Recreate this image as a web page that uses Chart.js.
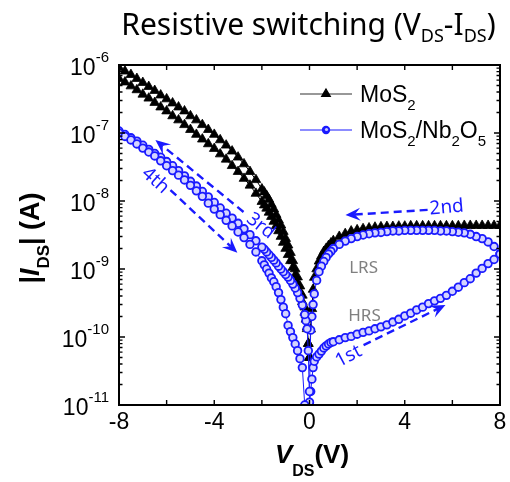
<!DOCTYPE html>
<html>
<head>
<meta charset="utf-8">
<script src="https://cdn.jsdelivr.net/npm/chart.js@4"></script>
<style>
  html, body { margin: 0; padding: 0; background: #fff; }
  canvas { display: block; }
</style>
</head>
<body>
<canvas id="chart" width="510" height="482"></canvas>
<script>
// ---------- Data ----------
// voltage grids (V)
const vPos = [0, 0.05, 0.1, 0.15, 0.2, 0.3, 0.4, 0.5, 0.6, 0.7, 0.8, 0.9, 1,
  1.25, 1.5, 1.75, 2, 2.25, 2.5, 2.75, 3, 3.25, 3.5, 3.75, 4, 4.25, 4.5, 4.75,
  5, 5.25, 5.5, 5.75, 6, 6.25, 6.5, 6.75, 7, 7.25, 7.5, 7.75, 8];
const vNeg = [0, -0.05, -0.1, -0.15, -0.2, -0.3, -0.4, -0.5, -0.6, -0.7, -0.8, -0.9, -1,
  -1.1, -1.2, -1.3, -1.4, -1.5, -1.6, -1.7, -1.8, -1.9, -2,
  -2.25, -2.5, -2.75, -3, -3.25, -3.5, -3.75, -4, -4.25, -4.5, -4.75,
  -5, -5.25, -5.5, -5.75, -6, -6.25, -6.5, -6.75, -7, -7.25, -7.5, -7.75, -8];

// MoS2 |I_DS| (A)
const mos2Pos = [5e-11, 1.3e-10, 2.6e-10, 5e-10, 7.5e-10, 1.0e-9, 1.3e-9, 1.55e-9, 1.8e-9, 2.0e-9, 2.2e-9, 2.4e-9, 2.6e-9,
  3.0e-9, 3.3e-9, 3.6e-9, 3.75e-9, 3.9e-9, 4.0e-9, 4.1e-9, 4.15e-9, 4.2e-9, 4.2e-9, 4.25e-9, 4.25e-9, 4.3e-9,
  4.3e-9, 4.3e-9, 4.3e-9, 4.3e-9, 4.3e-9, 4.3e-9, 4.3e-9, 4.3e-9, 4.35e-9, 4.35e-9, 4.35e-9, 4.35e-9, 4.35e-9, 4.35e-9, 4.35e-9];
const mos2NegA = [5e-11, 8e-11, 1.4e-10, 2.1e-10, 2.75e-10, 4.1e-10, 5.6e-10, 7.6e-10, 1.0e-9, 1.32e-9, 1.74e-9, 2.24e-9, 2.8e-9,
  3.55e-9, 4.4e-9, 5.25e-9, 6.3e-9, 7.6e-9, 8.9e-9, 1.05e-8, 1.2e-8, 1.35e-8, 1.5e-8,
  2.05e-8, 2.7e-8, 3.5e-8, 4.4e-8, 5.4e-8, 6.6e-8, 7.9e-8, 9.5e-8, 1.12e-7, 1.32e-7, 1.55e-7,
  1.78e-7, 2.1e-7, 2.4e-7, 2.75e-7, 3.16e-7, 3.6e-7, 4.2e-7, 4.8e-7, 5.5e-7, 6.3e-7, 7.2e-7, 8.1e-7, 9.1e-7];
const mos2NegB = [5e-11, 8e-11, 1.32e-10, 1.82e-10, 2.3e-10, 3.3e-10, 4.6e-10, 6.2e-10, 8.1e-10, 1.05e-9, 1.32e-9, 1.62e-9, 2.0e-9,
  2.45e-9, 3.0e-9, 3.63e-9, 4.3e-9, 5.0e-9, 5.9e-9, 6.8e-9, 7.8e-9, 8.7e-9, 9.8e-9,
  1.29e-8, 1.7e-8, 2.14e-8, 2.7e-8, 3.3e-8, 4.1e-8, 4.9e-8, 5.9e-8, 6.9e-8, 8.1e-8, 9.5e-8,
  1.12e-7, 1.32e-7, 1.55e-7, 1.78e-7, 2.1e-7, 2.4e-7, 2.8e-7, 3.24e-7, 3.7e-7, 4.3e-7, 4.9e-7, 5.6e-7, 6.3e-7];

// MoS2/Nb2O5 |I_DS| (A)
const nbFirst = [1.0e-11, 1.58e-11, 2.4e-11, 3.55e-11, 4.4e-11, 5.1e-11, 5.6e-11, 6.2e-11, 6.9e-11, 7.4e-11, 7.9e-11, 8.3e-11, 8.5e-11,
  9.1e-11, 9.8e-11, 1.02e-10, 1.1e-10, 1.17e-10, 1.23e-10, 1.32e-10, 1.41e-10, 1.51e-10, 1.66e-10, 1.82e-10, 2.04e-10, 2.24e-10, 2.5e-10, 2.75e-10,
  3.1e-10, 3.4e-10, 3.7e-10, 4.1e-10, 4.7e-10, 5.4e-10, 6.3e-10, 7.2e-10, 8.7e-10, 1.02e-9, 1.2e-9, 1.38e-9, 1.66e-9];
const nbSecond = [1.58e-11, 1.26e-10, 2.0e-10, 3.0e-10, 4.3e-10, 6.8e-10, 9.1e-10, 1.1e-9, 1.29e-9, 1.48e-9, 1.66e-9, 1.82e-9, 2.0e-9,
  2.3e-9, 2.57e-9, 2.8e-9, 3.0e-9, 3.16e-9, 3.3e-9, 3.4e-9, 3.45e-9, 3.55e-9, 3.63e-9, 3.63e-9, 3.7e-9, 3.7e-9, 3.7e-9, 3.7e-9,
  3.7e-9, 3.7e-9, 3.63e-9, 3.63e-9, 3.55e-9, 3.47e-9, 3.4e-9, 3.24e-9, 3.0e-9, 2.8e-9, 2.5e-9, 2.14e-9, 1.66e-9];
const nbThird = [1.1e-11, 6.3e-11, 1.32e-10, 1.74e-10, 2.14e-10, 2.95e-10, 3.7e-10, 4.5e-10, 5.25e-10, 6.0e-10, 6.8e-10, 7.6e-10, 8.3e-10,
  9.1e-10, 1.0e-9, 1.1e-9, 1.23e-9, 1.35e-9, 1.48e-9, 1.62e-9, 1.78e-9, 1.95e-9, 2.1e-9,
  2.6e-9, 3.2e-9, 3.9e-9, 4.7e-9, 5.6e-9, 6.6e-9, 7.9e-9, 9.5e-9, 1.15e-8, 1.38e-8, 1.66e-8,
  1.95e-8, 2.34e-8, 2.8e-8, 3.3e-8, 3.8e-8, 4.4e-8, 5.0e-8, 5.75e-8, 6.6e-8, 7.6e-8, 8.5e-8, 9.5e-8, 1.07e-7];
const nbFourth = [null, null, null, null, 1.0e-11, 3.55e-11, 4.8e-11, 6.3e-11, 7.9e-11, 9.8e-11, 1.2e-10, 1.48e-10, 2.2e-10,
  2.75e-10, 3.55e-10, 4.5e-10, 5.5e-10, 6.5e-10, 7.4e-10, 8.7e-10, 1.0e-9, 1.15e-9, 1.32e-9,
  1.78e-9, 2.3e-9, 2.9e-9, 3.5e-9, 4.3e-9, 5.2e-9, 6.3e-9, 7.6e-9, 9.3e-9, 1.17e-8, 1.41e-8,
  1.7e-8, 2.04e-8, 2.4e-8, 2.8e-8, 3.3e-8, 3.9e-8, 4.6e-8, 5.25e-8, 6.0e-8, 6.9e-8, 7.9e-8, 8.9e-8, 1.0e-7];

// axes
const xTickLabels = [-8, -4, 0, 4, 8];
const xTickMarks = [-8, -6, -4, -2, 0, 2, 4, 6, 8];
const yDecades = [-11, -10, -9, -8, -7, -6];

// ---------- Styles ----------
const BLUE = '#1a1aff';
const TICK_FONT = '"Liberation Sans", Arial, sans-serif';
const NOTE_FONT = '"Noto Sans", sans-serif';

// annotations, in data units: [V, I]
const arrows = [
  { from: [-2.77, 6.9e-9], to: [-6.47, 7.9e-8] },   // 3rd
  { from: [-5.84, 1.45e-8], to: [-3.03, 1.74e-9] }, // 4th
  { from: [2.27, 7.6e-11], to: [5.71, 2.95e-10] },  // 1st
  { from: [4.96, 7.4e-9], to: [1.51, 6.2e-9] }      // 2nd
];
const notes = [
  { text: '3rd', at: [-2.05, 4.3e-9], rot: 38, color: BLUE },
  { text: '4th', at: [-6.47, 2.0e-8], rot: 42, color: BLUE },
  { text: '1st', at: [1.64, 5.2e-11], rot: -28, color: BLUE },
  { text: '2nd', at: [5.76, 8.0e-9], rot: -5, color: BLUE },
  { text: 'LRS', at: [2.27, 1.02e-9], rot: 0, color: '#808080' },
  { text: 'HRS', at: [2.31, 2.04e-10], rot: 0, color: '#808080' }
];

const pts = (vs, is) => vs.map((v, i) => ({ x: v, y: is[i] }));

// sweep order: 0 -> 8 -> 0 -> -8 -> 0
const mos2Points = [...pts(vPos, mos2Pos).reverse(), ...pts(vNeg, mos2NegA), ...pts(vNeg, mos2NegB).reverse()];
const nbPoints = [...pts(vPos, nbFirst), ...pts(vPos, nbSecond).reverse(), ...pts(vNeg, nbThird), ...pts(vNeg, nbFourth).reverse()];

// ---------- Helpers ----------
// draw a run of [text, font, dy] pieces
function drawRuns(ctx, parts, x, y, align) {
    let w = 0;
    parts.forEach(p => { ctx.font = p[1]; w += ctx.measureText(p[0]).width; });
    let cx = align === 'center' ? x - w / 2 : align === 'right' ? x - w : x;
    ctx.textAlign = 'left';
    ctx.textBaseline = 'alphabetic';
    parts.forEach(p => {
        ctx.font = p[1];
        ctx.fillText(p[0], cx, y + (p[2] || 0));
        cx += ctx.measureText(p[0]).width;
    });
}

function drawArrow(ctx, x1, y1, x2, y2) {
    const ang = Math.atan2(y2 - y1, x2 - x1);
    const head = 15;
    ctx.save();
    ctx.strokeStyle = BLUE;
    ctx.fillStyle = BLUE;
    ctx.lineWidth = 2.4;
    ctx.setLineDash([8, 5]);
    ctx.beginPath();
    ctx.moveTo(x1, y1);
    ctx.lineTo(x2 - Math.cos(ang) * head * 0.6, y2 - Math.sin(ang) * head * 0.6);
    ctx.stroke();
    ctx.setLineDash([]);
    ctx.translate(x2, y2);
    ctx.rotate(ang);
    ctx.beginPath();
    ctx.moveTo(0, 0);
    ctx.lineTo(-head, -6.5);
    ctx.lineTo(-head * 0.62, 0);
    ctx.lineTo(-head, 6.5);
    ctx.closePath();
    ctx.fill();
    ctx.restore();
}

// ---------- Decorations plugin ----------
const deco = {
    id: 'deco',
    afterDatasetsDraw(chart) {
        const { ctx, chartArea: a } = chart;
        const xs = chart.scales.x, ys = chart.scales.y;
        ctx.save();

        // frame
        ctx.strokeStyle = '#000';
        ctx.lineWidth = 2;
        ctx.strokeRect(a.left, a.top, a.right - a.left, a.bottom - a.top);

        // inward ticks
        ctx.lineWidth = 1.4;
        ctx.beginPath();
        xTickMarks.forEach(v => {
            const px = xs.getPixelForValue(v);
            ctx.moveTo(px, a.bottom); ctx.lineTo(px, a.bottom - 5);
            ctx.moveTo(px, a.top); ctx.lineTo(px, a.top + 5);
        });
        yDecades.forEach(d => {
            for (let m = 1; m < 10; m++) {
                if (d === -6 && m > 1) break;
                const py = ys.getPixelForValue(m * Math.pow(10, d));
                const len = m === 1 ? 6 : 3.5;
                ctx.moveTo(a.left, py); ctx.lineTo(a.left + len, py);
                ctx.moveTo(a.right, py); ctx.lineTo(a.right - len, py);
            }
        });
        ctx.stroke();

        // tick labels
        ctx.fillStyle = '#000';
        xTickLabels.forEach(v => {
            ctx.font = '23px ' + TICK_FONT;
            ctx.textAlign = 'center';
            ctx.textBaseline = 'alphabetic';
            ctx.fillText(String(v), xs.getPixelForValue(v), a.bottom + 24);
        });
        yDecades.forEach(d => {
            const py = ys.getPixelForValue(Math.pow(10, d));
            drawRuns(ctx, [['10', '23px ' + TICK_FONT, 10], [String(d), '15px ' + TICK_FONT, -3]], 109, py, 'right');
        });

        // annotations
        arrows.forEach(ar => {
            drawArrow(ctx,
                xs.getPixelForValue(ar.from[0]), ys.getPixelForValue(ar.from[1]),
                xs.getPixelForValue(ar.to[0]), ys.getPixelForValue(ar.to[1]));
        });
        notes.forEach(n => {
            ctx.save();
            ctx.translate(xs.getPixelForValue(n.at[0]), ys.getPixelForValue(n.at[1]));
            ctx.rotate(n.rot * Math.PI / 180);
            ctx.fillStyle = n.color;
            ctx.font = (n.color === BLUE ? '19px ' : '17px ') + NOTE_FONT;
            ctx.textAlign = 'center';
            ctx.textBaseline = 'middle';
            ctx.fillText(n.text, 0, 0);
            ctx.restore();
        });

        // legend
        const lx1 = 300, lx2 = 352, lxm = 326, tx = 360;
        ctx.lineWidth = 1.2;
        ctx.strokeStyle = '#333';
        ctx.beginPath(); ctx.moveTo(lx1, 94); ctx.lineTo(lx2, 94); ctx.stroke();
        ctx.fillStyle = '#000'; ctx.strokeStyle = '#000';
        Chart.helpers.drawPoint(ctx, { pointStyle: 'triangle', radius: 5, rotation: 0, borderWidth: 1 }, lxm, 94);
        ctx.strokeStyle = BLUE;
        ctx.beginPath(); ctx.moveTo(lx1, 130); ctx.lineTo(lx2, 130); ctx.stroke();
        ctx.fillStyle = BLUE;
        ctx.beginPath(); ctx.arc(lxm, 130, 4.2, 0, Math.PI * 2); ctx.fill();
        ctx.fillStyle = '#c8c8ff';
        ctx.beginPath(); ctx.arc(lxm + 0.5, 129.5, 1.6, 0, Math.PI * 2); ctx.fill();
        ctx.fillStyle = '#000';
        const big = '23px ' + TICK_FONT, sub = '15px ' + TICK_FONT;
        drawRuns(ctx, [['MoS', big], ['2', sub, 8]], tx, 102, 'left');
        drawRuns(ctx, [['MoS', big], ['2', sub, 8], ['/Nb', big], ['2', sub, 8], ['O', big], ['5', sub, 8]], tx, 138, 'left');

        // title
        const tf = '30px ' + NOTE_FONT, ts = '18px ' + NOTE_FONT;
        drawRuns(ctx, [['Resistive switching (V', tf], ['DS', ts, 7], ['-I', tf], ['DS', ts, 7], [')', tf]],
            (a.left + a.right) / 2 - 1, 35, 'center');

        // x axis title
        const xb = 'bold 26px ' + TICK_FONT;
        drawRuns(ctx, [['V', 'italic ' + xb], ['DS', 'bold 16px ' + TICK_FONT, 13], ['(V)', xb]], 312, 463, 'center');

        // y axis title
        ctx.save();
        ctx.translate(39, 238);
        ctx.rotate(-Math.PI / 2);
        const yb = 'bold 27px ' + TICK_FONT;
        drawRuns(ctx, [['|', yb], ['I', 'italic ' + yb], ['DS', 'bold 17px ' + TICK_FONT, 10], ['| (A)', yb]], 0, 0, 'center');
        ctx.restore();

        ctx.restore();
    }
};

// ---------- Chart ----------
const ctx = document.getElementById('chart').getContext('2d');
new Chart(ctx, {
    type: 'scatter',
    data: {
        datasets: [{
            label: 'MoS2',
            data: mos2Points,
            showLine: true,
            borderColor: '#000',
            borderWidth: 1,
            backgroundColor: '#000',
            pointStyle: 'triangle',
            pointRadius: 5.6,
            pointBorderWidth: 0.8,
            order: 2
        }, {
            label: 'MoS2/Nb2O5',
            data: nbPoints,
            showLine: true,
            borderColor: BLUE,
            borderWidth: 1,
            pointBackgroundColor: '#d4d4ff',
            pointBorderColor: BLUE,
            pointStyle: 'circle',
            pointRadius: 3.8,
            pointBorderWidth: 1.8,
            order: 1
        }]
    },
    options: {
        responsive: false,
        animation: false,
        devicePixelRatio: 1,
        layout: { padding: { left: 119, right: 10, top: 65, bottom: 77 } },
        plugins: { legend: { display: false }, tooltip: { enabled: false } },
        scales: {
            x: { type: 'linear', min: -8, max: 8, display: false },
            y: { type: 'logarithmic', min: 1e-11, max: 1e-6, display: false }
        }
    },
    plugins: [deco]
});
</script>
</body>
</html>
